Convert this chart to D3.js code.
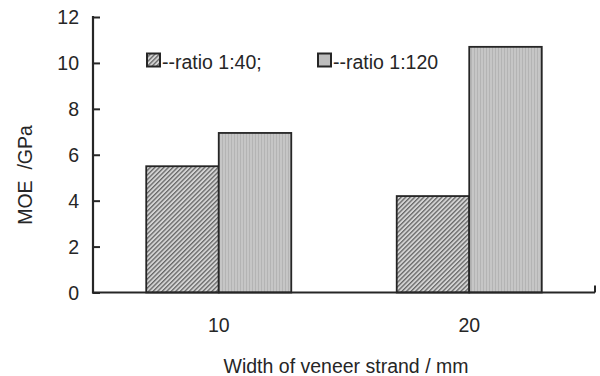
<!DOCTYPE html>
<html>
<head>
<meta charset="utf-8">
<script src="https://cdn.jsdelivr.net/npm/d3@7"></script>
<style>
  html, body { margin: 0; padding: 0; background: #fff; }
  svg { display: block; }
  text { font-family: "Liberation Sans", Arial, sans-serif; fill: #262626; }
</style>
</head>
<body>
<svg id="chart" width="600" height="376"></svg>
<script>
const categories = ["10", "20"];
const seriesNames = ["--ratio 1:40;", "--ratio 1:120"];
const ratio1to40 = [5.5, 4.2];
const ratio1to120 = [6.95, 10.7];
const yTicks = [0, 2, 4, 6, 8, 10, 12];
const xTitle = "Width of veneer strand / mm";
const yTitle = "MOE  /GPa";

const svg = d3.select("#chart");
const mLeft = 93, mRight = 595, mTop = 17, mBottom = 292.5;
const ink = "#262626";

const defs = svg.append("defs");
const hatch = defs.append("pattern").attr("id", "hatch")
  .attr("patternUnits", "userSpaceOnUse").attr("width", 3.2).attr("height", 3.2)
  .attr("patternTransform", "rotate(45)");
hatch.append("rect").attr("width", 3.2).attr("height", 3.2).attr("fill", "#d4d4d4");
hatch.append("rect").attr("width", 1.3).attr("height", 3.2).attr("fill", "#666666");

const vert = defs.append("pattern").attr("id", "vert")
  .attr("patternUnits", "userSpaceOnUse").attr("width", 3).attr("height", 3);
vert.append("rect").attr("width", 3).attr("height", 3).attr("fill", "#c6c6c6");
vert.append("rect").attr("width", 0.8).attr("height", 3).attr("fill", "#b0b0b0");

const fills = ["url(#hatch)", "url(#vert)"];
const data = categories.map((c, i) => ({cat: c, vals: [ratio1to40[i], ratio1to120[i]]}));

const x0 = d3.scaleBand().domain(categories).range([mLeft, mRight])
  .paddingInner(0.421).paddingOuter(0.2125);
const x1 = d3.scaleBand().domain([0, 1]).range([0, x0.bandwidth()]).padding(0);
const y = d3.scaleLinear().domain([0, 12]).range([mBottom, mTop]);

// bars
const g = svg.append("g");
data.forEach(d => {
  d.vals.forEach((v, k) => {
    g.append("rect")
      .attr("x", x0(d.cat) + x1(k))
      .attr("y", y(v))
      .attr("width", x1.bandwidth())
      .attr("height", y(0) - y(v))
      .attr("fill", fills[k])
      .attr("stroke", ink)
      .attr("stroke-width", 1.8);
  });
});

// y axis
const yAxis = d3.axisRight(y).tickValues(yTicks).tickSize(7).tickFormat("");
const ya = svg.append("g").attr("transform", `translate(${mLeft},0)`).call(yAxis);
ya.select(".domain").remove();
ya.selectAll(".tick line").attr("stroke", ink).attr("stroke-width", 2);
svg.append("line").attr("x1", mLeft).attr("x2", mLeft).attr("y1", mTop - 1).attr("y2", mBottom + 1)
  .attr("stroke", ink).attr("stroke-width", 2.2);
svg.append("g").selectAll("text").data(yTicks).join("text")
  .attr("x", 79).attr("y", d => y(d)).attr("dy", "0.36em")
  .attr("text-anchor", "end").attr("font-size", 19.5).text(d => d);

// x axis
svg.append("line").attr("x1", mLeft - 1).attr("x2", mRight).attr("y1", mBottom).attr("y2", mBottom)
  .attr("stroke", ink).attr("stroke-width", 2);
svg.append("line").attr("x1", mRight).attr("x2", mRight).attr("y1", mBottom).attr("y2", mBottom - 7)
  .attr("stroke", ink).attr("stroke-width", 2);
svg.append("g").selectAll("text").data(categories).join("text")
  .attr("x", d => x0(d) + x0.bandwidth() / 2).attr("y", 332)
  .attr("text-anchor", "middle").attr("font-size", 19.5).text(d => d);

// titles
svg.append("text").attr("x", 346).attr("y", 373).attr("text-anchor", "middle")
  .attr("font-size", 19.5).text(xTitle);
svg.append("text").attr("transform", "translate(32,175) rotate(-90)")
  .attr("text-anchor", "middle").attr("font-size", 19.5).style("white-space", "pre").text(yTitle);

// legend
const legendX = [147, 318];
const legendFills = ["url(#hatch)", "#bdbdbd"];
seriesNames.forEach((name, k) => {
  svg.append("rect").attr("x", legendX[k]).attr("y", 53.5).attr("width", 13).attr("height", 13)
    .attr("fill", legendFills[k]).attr("stroke", ink).attr("stroke-width", 2);
  svg.append("text").attr("x", legendX[k] + 15).attr("y", 68.5).attr("font-size", 19.5).text(name);
});
</script>
</body>
</html>
